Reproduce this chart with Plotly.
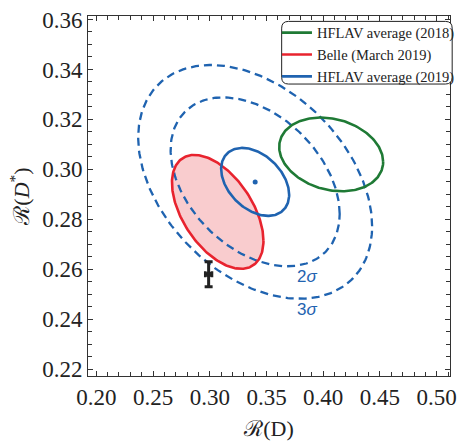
import numpy as np
import plotly.graph_objects as go

# ---------------- data ----------------
names = ["HFLAV average (2018)", "Belle (March 2019)", "HFLAV average (2019)"]
rd_val = [0.407, 0.307, 0.340]
rd_stat = [0.039, 0.037, 0.027]
rd_syst = [0.024, 0.016, 0.013]
rds_val = [0.306, 0.283, 0.295]
rds_stat = [0.013, 0.018, 0.011]
rds_syst = [0.007, 0.014, 0.008]
corr = [-0.203, -0.51, -0.38]

sm_rd, sm_rd_err = 0.299, 0.003
sm_rds, sm_rds_err = 0.258, 0.005

sigma_names = ["2σ", "3σ"]
sigma_dchi2 = [6.18, 11.83]   # 2 d.o.f. contours

x_ticks = [0.20, 0.25, 0.30, 0.35, 0.40, 0.45, 0.50]
y_ticks = [0.22, 0.24, 0.26, 0.28, 0.30, 0.32, 0.34, 0.36]

colors = ["#1f7a35", "#e8232e", "#1f63b0"]
SERIF = "Liberation Serif"


def ellipse(i, dchi2, n=240):
    sx = np.hypot(rd_stat[i], rd_syst[i])
    sy = np.hypot(rds_stat[i], rds_syst[i])
    r = corr[i]
    k = np.sqrt(dchi2)
    t = np.linspace(0, 2 * np.pi, n)
    x = rd_val[i] + k * sx * np.cos(t)
    y = rds_val[i] + k * sy * (r * np.cos(t) + np.sqrt(1 - r * r) * np.sin(t))
    return x, y


fig = go.Figure()

# Belle filled area
bx, by = ellipse(1, 1.0)
fig.add_trace(go.Scatter(x=bx, y=by, mode="lines", fill="toself",
                         fillcolor="rgba(232,40,50,0.24)", line=dict(width=0),
                         showlegend=False, hoverinfo="skip"))

# HFLAV 2019 2σ / 3σ dashed contours
for d in sigma_dchi2:
    ex, ey = ellipse(2, d)
    fig.add_trace(go.Scatter(x=ex, y=ey, mode="lines",
                             line=dict(color=colors[2], width=2.3, dash="8px,5px"),
                             showlegend=False, hoverinfo="skip"))

# 1σ solid contours
for i in range(3):
    ex, ey = ellipse(i, 1.0)
    fig.add_trace(go.Scatter(x=ex, y=ey, mode="lines", name=names[i],
                             line=dict(color=colors[i], width=2.6),
                             legendrank=i + 1))

# HFLAV 2019 central value
fig.add_trace(go.Scatter(x=[rd_val[2]], y=[rds_val[2]], mode="markers",
                         marker=dict(color=colors[2], size=5), showlegend=False))

# SM prediction
fig.add_trace(go.Scatter(x=[sm_rd], y=[sm_rds], mode="markers",
                         marker=dict(color="#222", size=5, symbol="square"),
                         error_x=dict(type="constant", value=sm_rd_err, color="#222",
                                      thickness=2.5, width=3),
                         error_y=dict(type="constant", value=sm_rds_err, color="#222",
                                      thickness=3, width=4),
                         showlegend=False))

# sigma labels
for lbl, yy in zip(sigma_names, [0.2573, 0.2438]):
    fig.add_annotation(x=0.386, y=yy, text=lbl[0] + "<i>" + lbl[1:] + "</i>",
                       showarrow=False,
                       font=dict(family="Liberation Sans", size=17, color=colors[2]))

# rounded legend frame
x0, x1, y0, y1 = 0.535, 1.006, 0.811, 0.985
rx, ry = 7 / 372, 7 / 375
legend_path = (f"M {x0+rx},{y0} L {x1-rx},{y0} Q {x1},{y0} {x1},{y0+ry} "
               f"L {x1},{y1-ry} Q {x1},{y1} {x1-rx},{y1} L {x0+rx},{y1} "
               f"Q {x0},{y1} {x0},{y1-ry} L {x0},{y0+ry} Q {x0},{y0} {x0+rx},{y0} Z")
fig.add_shape(type="path", path=legend_path, xref="paper", yref="paper",
              line=dict(color="#222", width=1), fillcolor="white", layer="above")

axis_common = dict(showline=True, linecolor="#333", linewidth=1, mirror="ticks",
                   ticks="inside", ticklen=5, tickcolor="#333", showgrid=False,
                   zeroline=False,
                   tickfont=dict(family=SERIF, size=23, color="#222"))

fig.update_xaxes(range=[0.1927, 0.5117], tickvals=x_ticks,
                 ticktext=[f"{v:.2f}" for v in x_ticks],
                 minor=dict(dtick=0.01, ticks="inside", ticklen=4, tickcolor="#333"),
                 title=dict(text="ℛ(D)", font=dict(family=SERIF, size=22, color="#222"),
                            standoff=12),
                 **axis_common)
fig.update_yaxes(range=[0.2173, 0.3614], tickvals=y_ticks,
                 ticktext=[f"{v:.2f}" for v in y_ticks],
                 minor=dict(dtick=0.005, ticks="inside", ticklen=4, tickcolor="#333"),
                 title=dict(text="ℛ(<i>D</i><sup>*</sup>)",
                            font=dict(family=SERIF, size=22, color="#222"),
                            standoff=6),
                 **axis_common)

fig.update_layout(
    width=468, height=445,
    margin=dict(l=88, r=8, t=9, b=61),
    paper_bgcolor="white", plot_bgcolor="white",
    legend=dict(x=0.522, xanchor="left", y=0.998, yanchor="top",
                bgcolor="rgba(0,0,0,0)", borderwidth=0,
                font=dict(family=SERIF, size=14.5, color="#222"),
                tracegroupgap=0, itemwidth=30),
)

# remove the default 8px page margin so the figure sits at the window origin
fig.write_html("out.html", config={"displayModeBar": False},
               post_script="document.body.style.margin='0px';")
